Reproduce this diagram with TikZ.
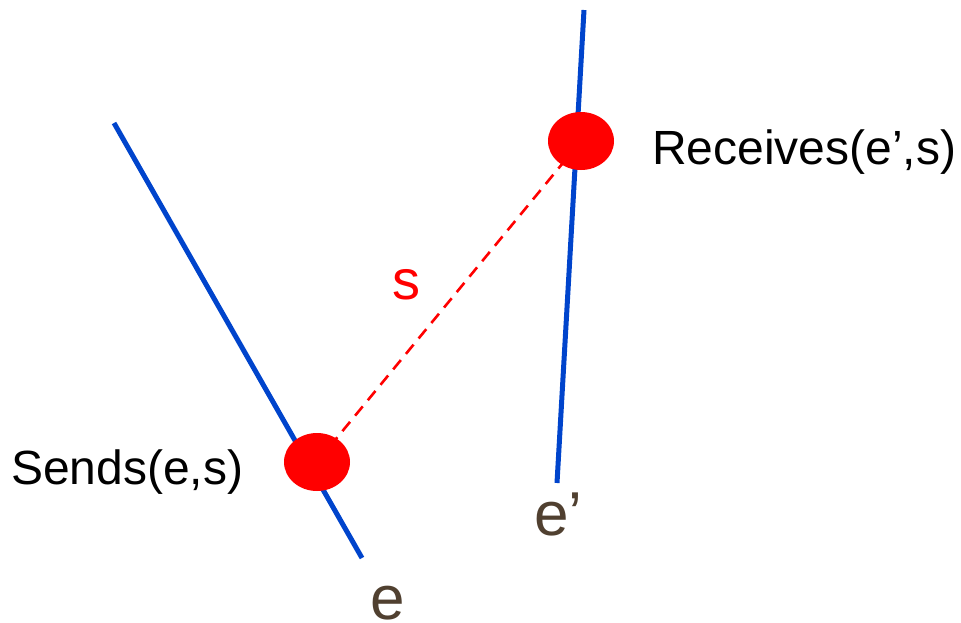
\documentclass[tikz,border=0pt]{standalone}
\usepackage{fontspec}
\setmainfont{Liberation Sans}
\usetikzlibrary{shapes.geometric}
\definecolor{lineblue}{RGB}{0,68,204}
\definecolor{dotred}{RGB}{255,0,0}
\definecolor{labbrown}{RGB}{80,64,48}
\begin{document}
\begin{tikzpicture}[x=1pt,y=-1pt,
  worldline/.style={draw=lineblue,line width=5pt},
  event/.style={ellipse,fill=dotred,minimum width=66pt,minimum height=58pt,inner sep=0pt},
  msg/.style={draw=dotred,line width=2.6pt,dash pattern=on 12pt off 8pt},
  lab/.style={inner sep=0pt,anchor=base west,font=\fontsize{48}{58}\selectfont},
  elab/.style={inner sep=0pt,anchor=base,text=labbrown,font=\fontsize{62}{74}\selectfont}]
\useasboundingbox (0,0) rectangle (961,622);
\coordinate (a1) at (114,123);
\coordinate (a2) at (362,558);
\coordinate (b1) at (584,10);
\coordinate (b2) at (557,483);
\draw[worldline] (a1) -- (a2);
\draw[worldline] (b1) -- (b2);
\path (317,462) coordinate (sc);
\path (581,141) coordinate (rc);
\draw[msg] (sc) -- (rc);
\node[event] (send) at (sc) {};
\node[event] (recv) at (rc) {};
\node[lab] (sendlab) at (11,484) {Sends(e,s)};
\node[lab] (recvlab) at (652,164) {Receives(e’,s)};
\node[inner sep=0pt,anchor=base west,text=dotred,font=\fontsize{56}{66}\selectfont] (slab) at (392,299) {s};
\node[elab] (elab1) at (388,619) {e};
\node[elab,anchor=base west] (elab2) at (534,535) {e’};
\end{tikzpicture}
\end{document}
